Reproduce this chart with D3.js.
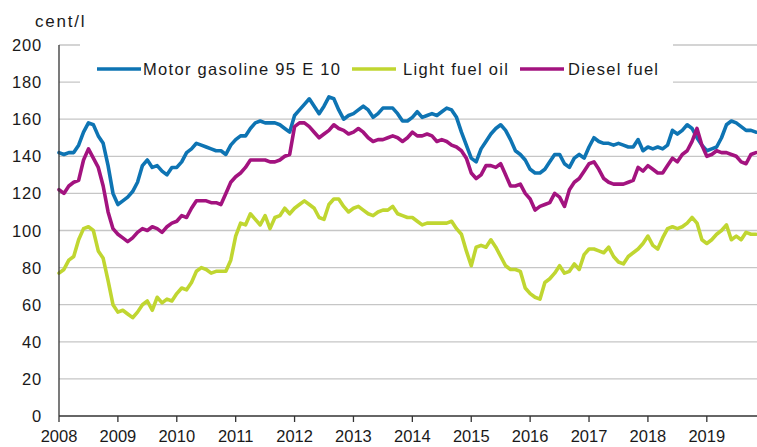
<!DOCTYPE html>
<html><head><meta charset="utf-8">
<script src="https://cdn.jsdelivr.net/npm/d3@7"></script>
<style>body{margin:0;background:#fff}svg{display:block}text{font-family:"Liberation Sans",Arial,sans-serif}</style>
</head><body>
<svg id="c" width="757" height="447"></svg>
<script>
const years = ["2008","2009","2010","2011","2012","2013","2014","2015","2016","2017","2018","2019"];
const yTicks = [0,20,40,60,80,100,120,140,160,180,200];
const seriesNames = ["Motor gasoline 95 E 10","Light fuel oil","Diesel fuel"];
const seriesColors = ["#0e74b3","#c0d631","#a3137f"];
// monthly values, Jan 2008 - Nov 2019 (cent/l)
const gasoline = [
142,141,142,142,146,153,158,157,151,147,135,120,
114,116,118,121,126,135,138,134,135,132,130,134,
134,137,142,144,147,146,145,144,143,143,141,146,
149,151,151,155,158,159,158,158,158,157,155,153,
162,165,168,171,167,163,167,172,171,165,160,162,
163,165,167,165,161,163,166,166,166,163,159,159,
161,164,161,162,163,162,164,166,165,161,153,146,
139,137,144,148,152,155,157,154,149,143,141,138,
133,131,131,133,137,141,141,136,134,139,141,139,
145,150,148,147,147,146,147,146,145,145,149,143,
145,144,145,144,146,154,152,154,157,155,150,146,
143,144,145,150,157,159,158,156,154,154,153];
const lightFuel = [
77,79,84,86,95,101,102,100,89,85,73,60,
56,57,55,53,56,60,62,57,64,61,63,62,
66,69,68,72,78,80,79,77,78,78,78,84,
97,104,103,109,106,103,108,101,107,108,112,109,
112,114,116,114,112,107,106,114,117,117,113,110,
112,113,111,109,108,110,111,111,113,109,108,107,
107,105,103,104,104,104,104,104,105,101,98,89,
81,91,92,91,95,91,86,81,79,79,78,69,
66,64,63,72,74,77,81,77,78,82,79,87,
90,90,89,88,91,86,83,82,86,88,90,93,
97,92,90,96,101,102,101,102,104,107,104,95,
93,95,98,100,103,95,97,95,99,98,98];
const diesel = [
122,120,124,126,127,138,144,139,134,124,110,101,
98,96,94,96,99,101,100,102,101,99,102,104,
105,108,107,112,116,116,116,115,115,114,120,126,
129,131,134,138,138,138,138,137,137,138,140,141,
156,158,158,156,153,150,152,154,157,155,154,152,
153,155,153,150,148,149,149,150,151,150,148,150,
153,151,151,152,151,148,149,148,146,145,143,139,
131,128,130,135,135,134,136,130,124,124,125,120,
117,111,113,114,115,120,118,113,122,126,128,132,
136,137,133,128,126,125,125,125,126,127,134,132,
135,133,131,131,135,139,137,141,143,148,155,146,
140,141,143,142,142,141,140,137,136,141,142];
const allSeries = [gasoline, lightFuel, diesel];

const svg = d3.select("#c");
const W = 757, H = 447;
const x = d3.scaleLinear().domain([0, 144]).range([59, 765.7]);
const y = d3.scaleLinear().domain([0, 200]).range([416, 45]);

// gridlines
svg.append("g").selectAll("line").data(yTicks.filter(d => d > 0)).join("line")
  .attr("x1", 59).attr("x2", W).attr("y1", d => y(d)).attr("y2", d => y(d))
  .attr("stroke", "#c6c6c6").attr("stroke-width", 1.3);

// y labels
svg.append("g").selectAll("text").data(yTicks).join("text")
  .attr("x", 42).attr("y", d => y(d) + 6).attr("text-anchor", "end")
  .attr("font-size", 16.5).attr("letter-spacing", 0.8).attr("fill", "#1a1a1a").text(d => d);

svg.append("text").attr("x", 35).attr("y", 27).attr("font-size", 17).attr("letter-spacing", 1.8)
  .attr("fill", "#1a1a1a").text("cent/l");

// legend background
const legendG = svg.append("g");
legendG.append("rect").attr("x", 80).attr("y", 38).attr("width", 593).attr("height", 52).attr("fill", "#fff");

// lines
const line = d3.line().x((d, i) => x(i)).y(d => y(d)).curve(d3.curveLinear);
const plot = svg.append("g");
svg.append("clipPath").attr("id", "clip").append("rect").attr("x", 55).attr("y", 0).attr("width", W - 55).attr("height", H);
plot.attr("clip-path", "url(#clip)");
allSeries.forEach((s, k) => {
  plot.append("path").datum(s).attr("d", line).attr("fill", "none")
    .attr("stroke", seriesColors[k]).attr("stroke-width", 3.6)
    .attr("stroke-linejoin", "round").attr("stroke-linecap", "round");
});

// axes
svg.append("line").attr("x1", 59).attr("x2", 59).attr("y1", 45).attr("y2", 416).attr("stroke", "#333").attr("stroke-width", 1.3);
svg.append("line").attr("x1", 59).attr("x2", W).attr("y1", 416).attr("y2", 416).attr("stroke", "#333").attr("stroke-width", 1.3);
svg.append("g").selectAll("line").data(years).join("line")
  .attr("x1", (d, i) => x(i * 12)).attr("x2", (d, i) => x(i * 12)).attr("y1", 416).attr("y2", 422)
  .attr("stroke", "#333").attr("stroke-width", 1.3);
svg.append("g").selectAll("text").data(years).join("text")
  .attr("x", (d, i) => x(i * 12)).attr("y", 442).attr("text-anchor", "middle")
  .attr("font-size", 16.5).attr("fill", "#1a1a1a").text(d => d);

// legend items
const legX = [97, 352, 520];
const legTX = [143, 403, 568];
seriesNames.forEach((n, k) => {
  legendG.append("line").attr("x1", legX[k]).attr("x2", legX[k] + 44).attr("y1", 69).attr("y2", 69)
    .attr("stroke", seriesColors[k]).attr("stroke-width", 3.6);
  legendG.append("text").attr("x", legTX[k]).attr("y", 75).attr("font-size", 16.5).attr("letter-spacing", 1.3)
    .attr("fill", "#1a1a1a").text(n);
});
</script>
</body></html>
